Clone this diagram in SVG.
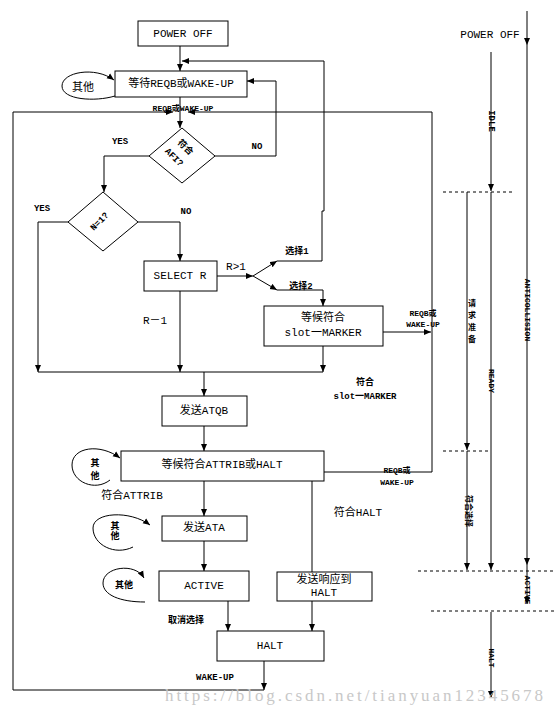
<svg xmlns="http://www.w3.org/2000/svg" width="555" height="713" viewBox="0 0 555 713">
<style>
.b{fill:#fff;stroke:#000;stroke-width:1}
.c{fill:none;stroke:#000;stroke-width:1}
.d{fill:none;stroke:#000;stroke-width:1;stroke-dasharray:3,3}
.t{font-family:"Liberation Mono","Noto Sans CJK SC",monospace;font-size:11px;fill:#000;text-anchor:middle;dominant-baseline:central}
.s{font-family:"Liberation Mono","Noto Sans CJK SC",monospace;font-size:9px;font-weight:bold;fill:#000;text-anchor:middle;dominant-baseline:central}
.v{font-family:"Liberation Mono","Noto Sans CJK SC",monospace;font-size:8px;font-weight:bold;fill:#000;text-anchor:middle;dominant-baseline:central}
.w{font-family:"Liberation Serif",serif;font-size:17px;fill:#c8c8c8}
</style>
<defs>
<marker id="a" markerWidth="7" markerHeight="7" refX="7" refY="3.5" orient="auto" markerUnits="userSpaceOnUse"><path d="M0,0.5 L7,3.5 L0,6.5 z" fill="#000"/></marker>
</defs>
<rect width="555" height="713" fill="#fff"/>
<g id="connectors">
<path class="c" d="M180,46 L180,71" marker-end="url(#a)"/>
<path class="c" d="M324,211 L324,61 L182,61" marker-end="url(#a)"/>
<path class="c" d="M215,156 L276,156 L276,81 L247,81" marker-end="url(#a)"/>
<path class="c" d="M180,97 L180,128" marker-end="url(#a)"/>
<path class="c" d="M324,472 L432,472 L432,112 L188,112" marker-end="url(#a)"/>
<path class="c" d="M264,690 L13,690 L13,112 L173,112" marker-end="url(#a)"/>
<path class="c" d="M149,156 L104,156 L104,192" marker-end="url(#a)"/>
<path class="c" d="M68,222 L38,222 L38,372" marker-end="url(#a)"/>
<path class="c" d="M138,222 L180,222 L180,261" marker-end="url(#a)"/>
<path class="c" d="M180,291 L180,372" marker-end="url(#a)"/>
<path class="c" d="M217,276 L253,276" marker-end="url(#a)"/>
<path class="c" d="M253,276 L277,261" marker-end="url(#a)"/>
<path class="c" d="M253,276 L277,290" marker-end="url(#a)"/>
<path class="c" d="M277,261 L322,261 L322,211 L324,211"/>
<path class="c" d="M277,290 L323,290 L323,306" marker-end="url(#a)"/>
<path class="c" d="M383,332 L431,332" marker-end="url(#a)"/>
<path class="c" d="M323,346 L323,372" marker-end="url(#a)"/>
<path class="c" d="M38,372 L323,372"/>
<path class="c" d="M204,372 L204,396" marker-end="url(#a)"/>
<path class="c" d="M204,426 L204,451" marker-end="url(#a)"/>
<path class="c" d="M204,481 L204,516" marker-end="url(#a)"/>
<path class="c" d="M204,541 L204,571" marker-end="url(#a)"/>
<path class="c" d="M228,601 L228,631" marker-end="url(#a)"/>
<path class="c" d="M312,481 L312,572"/>
<path class="c" d="M312,601 L312,631" marker-end="url(#a)"/>
<path class="c" d="M264,661 L264,690" marker-end="url(#a)"/>
<path class="c" d="M115,96 C95,102 62,100 62,86 C62,72 95,66 114,80" marker-end="url(#a)"/>
<path class="c" d="M110,480 C95,492 72,482 72,465 C72,447 100,443 120,458" marker-end="url(#a)"/>
<path class="c" d="M133,547 C115,556 93,545 93,528 C93,512 130,510 150,525" marker-end="url(#a)"/>
<path class="c" d="M145,602 C120,602 103,595 103,583 C103,567 135,562 144,578" marker-end="url(#a)"/>
</g>
<g id="timeline">
<path class="c" d="M527,11 L527,45" marker-end="url(#a)"/>
<path class="c" d="M527,45 L527,565" marker-end="url(#a)"/>
<path class="c" d="M527,565 L527,604" marker-end="url(#a)"/>
<path class="c" d="M491,52 L491,191" marker-end="url(#a)"/>
<path class="c" d="M491,192 L491,570" marker-end="url(#a)"/>
<path class="c" d="M491,612 L491,698" marker-end="url(#a)"/>
<path class="c" d="M467,192 L467,450" marker-end="url(#a)"/>
<path class="c" d="M467,451 L467,570" marker-end="url(#a)"/>
<path class="d" d="M443,192 L515,192"/>
<path class="d" d="M443,451 L491,451"/>
<path class="d" d="M418,571 L555,571"/>
<path class="d" d="M431,611 L555,611"/>
<text class="t" x="490" y="35">POWER OFF</text>
<text class="s" transform="translate(491,121) rotate(90)">IDLE</text>
<text class="v" transform="translate(527,310) rotate(90)">ANTICOLLISION</text>
<text class="v" transform="translate(491,381) rotate(90)">READY</text>
<text class="v" transform="translate(527,590) rotate(90)">ACTIVE</text>
<text class="v" transform="translate(491,658) rotate(90)">HALT</text>
<text class="v" transform="translate(468,511) rotate(90)">符合选择</text>
<text class="v" x="472" y="303">请</text>
<text class="v" x="472" y="315">求</text>
<text class="v" x="472" y="327">准</text>
<text class="v" x="472" y="339">备</text>
</g>
<g id="power-off"><rect class="b" x="138" y="21" width="90" height="25"/><text class="t" x="183" y="34">POWER OFF</text></g>
<g id="wait-reqb"><rect class="b" x="115" y="71" width="132" height="26"/><text class="t" x="181" y="84">等待REQB或WAKE-UP</text></g>
<g id="afi"><path class="b" d="M182,128 L215,156 L182,183 L149,156 z"/>
<g transform="translate(182,155) rotate(45)"><text class="s" x="-3" y="-7">符合</text><text class="s" x="-4" y="8">AFI?</text></g></g>
<g id="n1"><path class="b" d="M103,192 L138,222 L103,251 L68,222 z"/><text class="s" transform="translate(100,222) rotate(-45)">N=1?</text></g>
<g id="select-r"><rect class="b" x="144" y="261" width="73" height="30"/><text class="t" x="180" y="276">SELECT R</text></g>
<g id="wait-slot"><rect class="b" x="264" y="306" width="119" height="40"/><text class="t" x="323" y="318">等候符合</text><text class="t" x="323" y="333">slot一MARKER</text></g>
<g id="send-atqb"><rect class="b" x="162" y="396" width="85" height="30"/><text class="t" x="204" y="411">发送ATQB</text></g>
<g id="wait-attrib"><rect class="b" x="121" y="451" width="203" height="30"/><text class="t" x="222" y="465">等候符合ATTRIB或HALT</text></g>
<g id="send-ata"><rect class="b" x="162" y="516" width="85" height="25"/><text class="t" x="204" y="528">发送ATA</text></g>
<g id="active"><rect class="b" x="159" y="571" width="90" height="30"/><text class="t" x="204" y="586">ACTIVE</text></g>
<g id="send-halt"><rect class="b" x="277" y="572" width="95" height="29"/><text class="t" x="324" y="580">发送响应到</text><text class="t" x="324" y="593">HALT</text></g>
<g id="halt"><rect class="b" x="217" y="631" width="107" height="30"/><text class="t" x="270" y="646">HALT</text></g>
<g id="labels">
<text class="t" x="83" y="88">其他</text>
<text class="v" x="183" y="108">REQB或WAKE-UP</text>
<text class="s" x="120" y="142">YES</text>
<text class="s" x="257" y="147">NO</text>
<text class="s" x="42" y="209">YES</text>
<text class="s" x="186" y="212">NO</text>
<text class="t" x="236" y="267">R&gt;1</text>
<text class="s" x="297" y="252">选择1</text>
<text class="s" x="301" y="287">选择2</text>
<text class="t" x="155" y="321">R－1</text>
<text class="v" x="423" y="313">REQB或</text>
<text class="v" x="423" y="324">WAKE-UP</text>
<text class="s" x="365" y="383">符合</text>
<text class="s" x="365" y="397">slot一MARKER</text>
<text class="s" x="95" y="464">其</text>
<text class="s" x="95" y="477">他</text>
<text class="v" x="397" y="470">REQB或</text>
<text class="v" x="397" y="482">WAKE-UP</text>
<text class="t" x="132" y="496">符合ATTRIB</text>
<text class="t" x="358" y="513">符合HALT</text>
<text class="s" x="115" y="527">其</text>
<text class="s" x="115" y="537">他</text>
<text class="s" x="124" y="586">其他</text>
<text class="s" x="186" y="621">取消选择</text>
<text class="s" x="215" y="678">WAKE-UP</text>
</g>
<text class="w" x="165" y="701" textLength="378" lengthAdjust="spacing">https://blog.csdn.net/tianyuan12345678</text>
</svg>
